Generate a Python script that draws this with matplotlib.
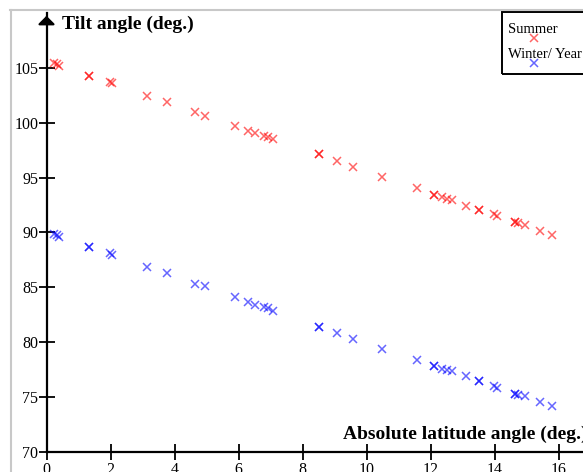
import matplotlib
matplotlib.use("Agg")
import matplotlib.pyplot as plt
from matplotlib.lines import Line2D
from matplotlib.patches import Rectangle

# ---- data ----
latitude = [0.24, 0.32, 0.40, 1.32, 1.32, 1.98, 2.05, 3.14, 3.78, 4.64, 4.94,
            5.88, 6.30, 6.51, 6.81, 6.93, 7.09, 8.53, 8.53, 9.09, 9.59, 10.49,
            11.58, 12.11, 12.11, 12.37, 12.51, 12.67, 13.12, 13.52, 13.52,
            13.98, 14.09, 14.65, 14.65, 14.73, 14.95, 15.42, 15.80]
summer = [105.45, 105.34, 105.20, 104.24, 104.24, 103.70, 103.60, 102.45,
          101.90, 100.97, 100.60, 99.72, 99.24, 99.03, 98.78, 98.66, 98.48,
          97.11, 97.11, 96.50, 95.93, 95.02, 94.02, 93.43, 93.43, 93.20, 93.07,
          92.95, 92.40, 92.04, 92.04, 91.65, 91.49, 90.95, 90.95, 90.83, 90.67,
          90.13, 89.76]
winter = [89.85, 89.74, 89.55, 88.64, 88.64, 88.10, 87.94, 86.82, 86.27,
          85.33, 85.09, 84.09, 83.66, 83.42, 83.23, 83.10, 82.87, 81.41, 81.41,
          80.87, 80.32, 79.38, 78.38, 77.80, 77.80, 77.59, 77.47, 77.35, 76.89,
          76.44, 76.44, 76.04, 75.86, 75.28, 75.28, 75.22, 75.07, 74.53, 74.16]
x_ticks = [0, 2, 4, 6, 8, 10, 12, 14, 16]
y_ticks = [70, 75, 80, 85, 90, 95, 100, 105]
series_names = ["Summer", "Winter/ Year"]

W, H = 583, 472
plt.rcParams['font.family'] = ['Liberation Serif', 'DejaVu Serif']
fig = plt.figure(figsize=(W / 100, H / 100), dpi=100)

def fx(px):
    return px / W

def fy(py):
    return 1 - py / H

ax_left, ax_bottom, ax_top = 46.5, 452, 13
ax = fig.add_axes([fx(ax_left), fy(ax_bottom), (W - ax_left) / W,
                   (ax_bottom - ax_top) / H])
ax.set_xlim(0, (W - ax_left) / 32.0)
ax.set_ylim(70, 110)
ax.patch.set_alpha(0)

mk = dict(marker='x', linestyle='none', markersize=5.2, markeredgewidth=1.1)
ax.plot(latitude, summer, color='red', alpha=0.6, **mk)
ax.plot(latitude, winter, color='blue', alpha=0.6, **mk)

for s in ['top', 'right']:
    ax.spines[s].set_visible(False)
for s in ['left', 'bottom']:
    ax.spines[s].set_linewidth(1.6)
ax.set_xticks(x_ticks)
ax.set_yticks(y_ticks)
ax.tick_params(direction='inout', length=11, width=1.3, labelsize=11.5)
ax.tick_params(axis='y', pad=0.5)
ax.tick_params(axis='x', pad=2)
ax.annotate('', xy=(0, 1), xytext=(0, 0.97), xycoords='axes fraction',
            arrowprops=dict(arrowstyle='-|>,head_length=0.5,head_width=0.5',
                            color='black', lw=1.6), annotation_clip=False)

fig.text(fx(62), fy(29), 'Tilt angle (deg.)', fontsize=14, fontweight='bold',
         ha='left', va='baseline')
fig.text(fx(343), fy(439), 'Absolute latitude angle (deg.)', fontsize=14,
         fontweight='bold', ha='left', va='baseline')

# frame
fig.add_artist(Line2D([fx(10), 1], [fy(10), fy(10)], color='#c8c8c8', lw=1.5,
                      transform=fig.transFigure))
fig.add_artist(Line2D([fx(10.5), fx(10.5)], [fy(10), 0], color='#c8c8c8',
                      lw=1.5, transform=fig.transFigure))

# legend box
fig.add_artist(Rectangle((fx(502), fy(74)), 1, fy(12) - fy(74), fill=False,
                         edgecolor='black', lw=1.4, transform=fig.transFigure))
fig.text(fx(508), fy(33), series_names[0], fontsize=10.5, ha='left',
         va='baseline')
fig.text(fx(508), fy(58), series_names[1], fontsize=10.5, ha='left',
         va='baseline')
fig.add_artist(Line2D([fx(534)], [fy(38)], color='red', alpha=0.6,
                      transform=fig.transFigure, **mk))
fig.add_artist(Line2D([fx(534)], [fy(63)], color='blue', alpha=0.6,
                      transform=fig.transFigure, **mk))

fig.savefig('out.png', dpi=100)
